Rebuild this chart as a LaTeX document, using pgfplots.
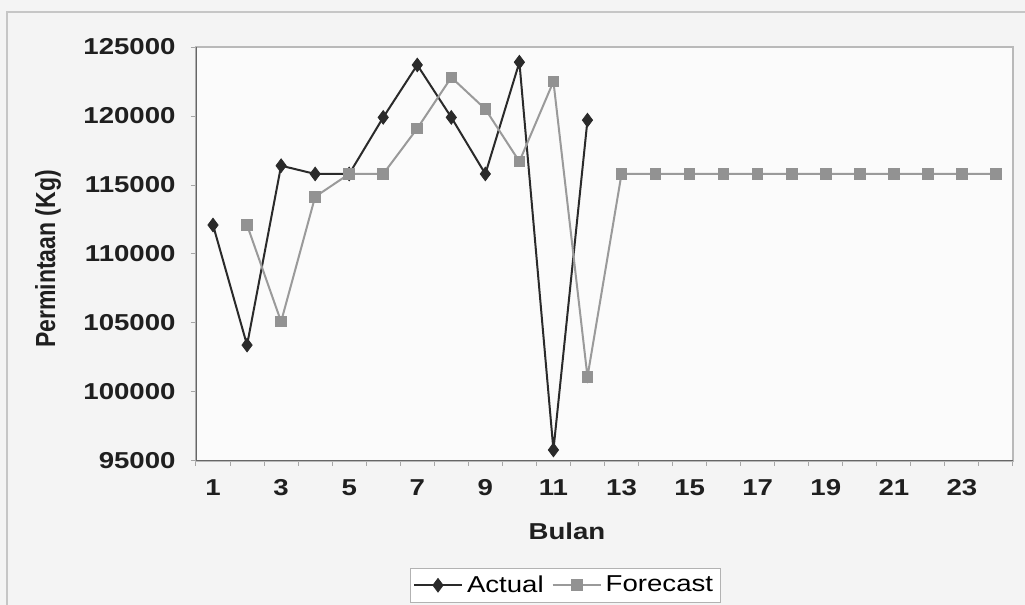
\documentclass[border=0pt]{standalone}
\usepackage{graphicx}
\usepackage{pgfplots}
\pgfplotsset{compat=1.18}
\usepackage{fontspec}
\setmainfont{Liberation Sans}

\definecolor{actualc}{HTML}{2A2A2A}
\definecolor{forecastc}{HTML}{9A9A9A}
\definecolor{chartbg}{HTML}{F4F4F4}
\definecolor{plotbg}{HTML}{FBFBFB}

% wide-set text, as in the chart's lettering
\newcommand\sx[1]{\scalebox{1.2}[1]{#1}}
\newcommand\bsx[1]{\scalebox{1.2}[1]{\bfseries #1}}

\begin{document}
\begin{tikzpicture}
\useasboundingbox (0,0) rectangle (512.5pt,302.5pt);
\fill[chartbg] (0,0) rectangle (512.5pt,302.5pt);
\draw[gray!45, line width=0.8pt] (3.5pt,-5pt) -- (3.5pt,296.5pt) -- (520pt,296.5pt);
\begin{axis}[
  at={(98pt,72pt)}, anchor=south west,
  scale only axis, width=408.5pt, height=207pt,
  font=\fontsize{11.5}{13}\selectfont,
  axis background/.style={fill=plotbg},
  axis line style={draw=gray!55, line width=0.6pt},
  xmin=0.5, xmax=24.5, ymin=95000, ymax=125000,
  xtick pos=bottom, ytick pos=left,
  tick align=outside, major tick length=2.5pt,
  tick style={draw=gray!70, line width=0.5pt},
  xtick={0.5,1.5,...,24.5}, xticklabels=\empty,
  extra x ticks={1,3,...,23},
  extra x tick labels={\bsx{1},\bsx{3},\bsx{5},\bsx{7},\bsx{9},\bsx{11},\bsx{13},\bsx{15},\bsx{17},\bsx{19},\bsx{21},\bsx{23}},
  extra x tick style={major tick length=0pt},
  xticklabel style={yshift=-5.7pt, text=black!88},
  scaled y ticks=false,
  ytick={95000,100000,...,125000},
  yticklabels={\bsx{95000},\bsx{100000},\bsx{105000},\bsx{110000},\bsx{115000},\bsx{120000},\bsx{125000}},
  yticklabel style={xshift=-4.2pt, text=black!88},
  xlabel={\bsx{Bulan}},
  xlabel style={at={(axis description cs:0.454,-0.169)}, anchor=center, text=black!88},
  ylabel={\scalebox{1}[1.2]{\bfseries Permintaan (Kg)}},
  ylabel style={at={(axis description cs:-0.181,0.488)}, anchor=center, text=black!88},
  legend columns=2,
  legend style={at={(axis description cs:0.4517,-0.2585)}, anchor=north,
    draw=gray!60, fill=white, font=\fontsize{11.5}{13}\selectfont,
    inner xsep=1.5pt, inner ysep=1.5pt,
    /tikz/every even column/.append style={column sep=2pt}},
  legend image code/.code={\draw[mark repeat=2, mark phase=2, #1]
    plot coordinates {(0pt,0pt) (12pt,0pt) (24pt,0pt)};},
]
\addplot[color=actualc, line width=1pt, mark=diamond*, mark size=3.4pt,
  mark options={fill=actualc, draw=actualc, line width=0.4pt}]
  coordinates {(1,112100) (2,103400) (3,116400) (4,115800) (5,115800)
    (6,119900) (7,123700) (8,119900) (9,115800) (10,123900)
    (11,95800) (12,119700)};
\addlegendentry{\sx{Actual}}
\addplot[color=forecastc, line width=1pt, mark=square*, mark size=2.4pt,
  mark options={fill=forecastc!95!black, draw=forecastc!95!black}]
  coordinates {(2,112100) (3,105100) (4,114150) (5,115800) (6,115800)
    (7,119100) (8,122800) (9,120500) (10,116700) (11,122500)
    (12,101100) (13,115800) (14,115800) (15,115800) (16,115800)
    (17,115800) (18,115800) (19,115800) (20,115800) (21,115800)
    (22,115800) (23,115800) (24,115800)};
\addlegendentry{\sx{Forecast}}
\draw[gray!80!black, line width=0.7pt]
  (rel axis cs:0,1) -- (rel axis cs:0,0) -- (rel axis cs:1,0);
\end{axis}
\end{tikzpicture}
\end{document}
